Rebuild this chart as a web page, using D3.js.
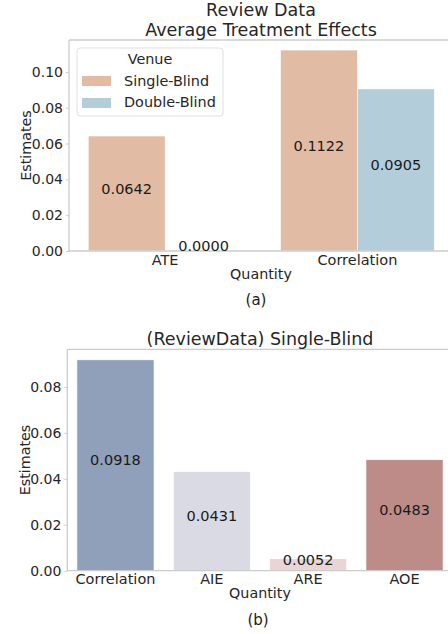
<!DOCTYPE html>
<html>
<head>
<meta charset="utf-8">
<script src="https://cdn.jsdelivr.net/npm/d3@7"></script>
<style>
  body { margin: 0; background: #fff; }
  svg { display: block; font-family: "DejaVu Sans", sans-serif; }
</style>
</head>
<body>
<div id="chart"></div>
<script>
// panel (a)
const quantitiesA = ["ATE", "Correlation"];
const venues = ["Single-Blind", "Double-Blind"];
const singleBlind = [0.0642, 0.1122];
const doubleBlind = [0.0000, 0.0905];
const venueColors = ["#e2bba4", "#b3cddb"];

// panel (b)
const quantitiesB = ["Correlation", "AIE", "ARE", "AOE"];
const estimatesB = [0.0918, 0.0431, 0.0052, 0.0483];
const colorsB = ["#909fba", "#d9dae3", "#e8d5d4", "#bd8c88"];

const ticksA = [0, 0.02, 0.04, 0.06, 0.08, 0.10];
const ticksB = [0, 0.02, 0.04, 0.06, 0.08];

const W = 448, H = 634;
const svg = d3.select("#chart").append("svg")
  .attr("width", W).attr("height", H);

const spine = "#cccccc";
const ink = "#262626";

function frame(g, x0, x1, y0, y1) {
  g.append("line").attr("x1", x0).attr("x2", x0).attr("y1", y0).attr("y2", y1)
    .attr("stroke", spine).attr("stroke-width", 1.3);
  g.append("line").attr("x1", x0).attr("x2", x1).attr("y1", y0).attr("y2", y0)
    .attr("stroke", spine).attr("stroke-width", 1.3);
  g.append("line").attr("x1", x0).attr("x2", x1).attr("y1", y1).attr("y2", y1)
    .attr("stroke", spine).attr("stroke-width", 1.3);
}

function yAxis(g, y, x0, ticks) {
  const ax = d3.axisLeft(y).tickValues(ticks).tickFormat(d3.format(".2f"))
    .tickSize(3).tickPadding(3);
  const a = g.append("g").attr("transform", `translate(${x0},0)`).call(ax);
  a.select(".domain").remove();
  a.selectAll("line").attr("stroke", spine);
  a.selectAll("text").attr("font-size", 14).attr("fill", ink)
    .attr("font-family", "DejaVu Sans");
}

// ---------- panel (a) ----------
{
  const x0 = 69, x1 = 453.5, yTop = 40, yBot = 251;
  const g = svg.append("g");
  const x = d3.scaleBand().domain(quantitiesA).range([x0, x1]).paddingInner(0.2).paddingOuter(0.1);
  const xs = d3.scaleBand().domain(venues).range([0, x.bandwidth()]);
  const y = d3.scaleLinear().domain([0, d3.max(singleBlind) * 1.05]).range([yBot, yTop]);

  const rows = [];
  quantitiesA.forEach((q, i) => {
    rows.push({ q, v: venues[0], val: singleBlind[i], c: venueColors[0] });
    rows.push({ q, v: venues[1], val: doubleBlind[i], c: venueColors[1] });
  });

  g.selectAll("rect.bar").data(rows).join("rect")
    .attr("class", "bar")
    .attr("x", d => x(d.q) + xs(d.v))
    .attr("width", xs.bandwidth())
    .attr("y", d => y(d.val))
    .attr("height", d => yBot - y(d.val))
    .attr("fill", d => d.c)
    .attr("stroke", "#fff").attr("stroke-width", 0.6);

  frame(g, x0, x1, yTop, yBot);
  yAxis(g, y, x0, ticksA);

  g.selectAll("text.val").data(rows).join("text")
    .attr("class", "val")
    .attr("x", d => x(d.q) + xs(d.v) + xs.bandwidth() / 2)
    .attr("y", d => (y(d.val) + yBot) / 2)
    .attr("text-anchor", "middle")
    .attr("font-size", 14.5).attr("fill", "#1a1a1a")
    .text(d => d.val.toFixed(4));

  g.selectAll("text.xt").data(quantitiesA).join("text")
    .attr("class", "xt")
    .attr("x", d => x(d) + x.bandwidth() / 2).attr("y", 265)
    .attr("text-anchor", "middle").attr("font-size", 14.5).attr("fill", ink)
    .text(d => d);

  g.append("text").attr("x", 261).attr("y", 279).attr("text-anchor", "middle")
    .attr("font-size", 14.3).attr("fill", ink).text("Quantity");
  g.append("text").attr("transform", `translate(31,${(yTop + yBot) / 2}) rotate(-90)`)
    .attr("text-anchor", "middle").attr("font-size", 14.3).attr("fill", ink).text("Estimates");
  g.append("text").attr("x", 256).attr("y", 305).attr("text-anchor", "middle")
    .attr("font-size", 15).attr("fill", "#1a1a1a").text("(a)");

  g.append("text").attr("x", 261).attr("y", 16).attr("text-anchor", "middle")
    .attr("font-size", 17.5).attr("fill", ink).text("Review Data");
  g.append("text").attr("x", 261).attr("y", 36).attr("text-anchor", "middle")
    .attr("font-size", 17.5).attr("fill", ink).text("Average Treatment Effects");

  // legend
  const lg = g.append("g");
  lg.append("rect").attr("x", 77).attr("y", 48).attr("width", 146).attr("height", 68)
    .attr("rx", 3).attr("fill", "#fff").attr("fill-opacity", 0.8)
    .attr("stroke", "#e0e0e0").attr("stroke-width", 1);
  lg.append("text").attr("x", 150).attr("y", 64).attr("text-anchor", "middle")
    .attr("font-size", 14.4).attr("fill", ink).text("Venue");
  venues.forEach((v, i) => {
    lg.append("rect").attr("x", 82).attr("y", 76 + i * 22).attr("width", 29).attr("height", 10)
      .attr("fill", venueColors[i]);
    lg.append("text").attr("x", 124).attr("y", 86 + i * 21).attr("font-size", 14.4)
      .attr("fill", ink).text(v);
  });
}

// ---------- panel (b) ----------
{
  const x0 = 67.3, x1 = 452.7, yTop = 349.3, yBot = 570.7;
  const g = svg.append("g");
  const x = d3.scaleBand().domain(quantitiesB).range([x0, x1]).paddingInner(0.2).paddingOuter(0.1);
  const y = d3.scaleLinear().domain([0, d3.max(estimatesB) * 1.05]).range([yBot, yTop]);

  g.selectAll("rect.bar").data(quantitiesB).join("rect")
    .attr("class", "bar")
    .attr("x", d => x(d)).attr("width", x.bandwidth())
    .attr("y", (d, i) => y(estimatesB[i]))
    .attr("height", (d, i) => yBot - y(estimatesB[i]))
    .attr("fill", (d, i) => colorsB[i])
    .attr("stroke", "#fff").attr("stroke-width", 0.6);

  frame(g, x0, x1, yTop, yBot);
  yAxis(g, y, x0, ticksB);

  g.selectAll("text.val").data(quantitiesB).join("text")
    .attr("class", "val")
    .attr("x", d => x(d) + x.bandwidth() / 2)
    .attr("y", (d, i) => (y(estimatesB[i]) + yBot) / 2)
    .attr("text-anchor", "middle").attr("font-size", 14.5).attr("fill", "#1a1a1a")
    .text((d, i) => estimatesB[i].toFixed(4));

  g.selectAll("text.xt").data(quantitiesB).join("text")
    .attr("class", "xt")
    .attr("x", d => x(d) + x.bandwidth() / 2).attr("y", 584)
    .attr("text-anchor", "middle").attr("font-size", 14.5).attr("fill", ink)
    .text(d => d);

  g.append("text").attr("x", 260).attr("y", 598).attr("text-anchor", "middle")
    .attr("font-size", 14.3).attr("fill", ink).text("Quantity");
  g.append("text").attr("transform", `translate(30,${(yTop + yBot) / 2}) rotate(-90)`)
    .attr("text-anchor", "middle").attr("font-size", 14.3).attr("fill", ink).text("Estimates");
  g.append("text").attr("x", 258).attr("y", 625).attr("text-anchor", "middle")
    .attr("font-size", 15).attr("fill", "#1a1a1a").text("(b)");
  g.append("text").attr("x", 260).attr("y", 345).attr("text-anchor", "middle")
    .attr("font-size", 17.5).attr("fill", ink).text("(ReviewData) Single-Blind");
}
</script>
</body>
</html>
